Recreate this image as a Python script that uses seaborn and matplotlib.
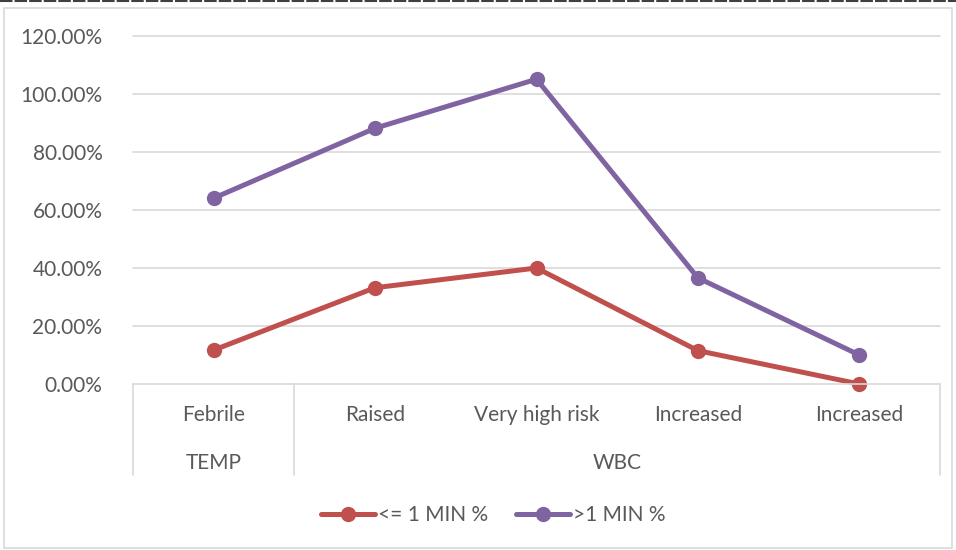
import matplotlib
matplotlib.use("Agg")
import matplotlib.pyplot as plt
import pandas as pd
import seaborn as sns
from matplotlib.lines import Line2D
from matplotlib.patches import Rectangle

categories = ["Febrile", "Raised", "Very high risk", "Increased", "Increased"]
groups = [("TEMP", 0, 1), ("WBC", 1, 5)]
series_names = ["<= 1 MIN %", ">1 MIN %"]
le_1_min = [0.117, 0.332, 0.40, 0.115, 0.0]
gt_1_min = [0.641, 0.882, 1.051, 0.366, 0.10]
yticks = [0.0, 0.2, 0.4, 0.6, 0.8, 1.0, 1.2]

sns.set_theme(style="white")
plt.rcParams["font.family"] = ["Lato", "DejaVu Sans"]

df = pd.DataFrame(
    {
        "pos": list(range(len(categories))) * 2,
        "value": le_1_min + gt_1_min,
        "series": [series_names[0]] * len(categories) + [series_names[1]] * len(categories),
    }
)

fig = plt.figure(figsize=(9.56, 5.5), dpi=100)
ax = fig.add_axes([133 / 956, 1 - 384 / 550, (940 - 133) / 956, (384 - 36) / 550])

grid_c = "#D9D9D9"
text_c = "#595959"
fs = 15
for t in yticks[1:]:
    ax.axhline(t, color=grid_c, lw=1.2, zorder=0)

sns.lineplot(
    data=df,
    x="pos",
    y="value",
    hue="series",
    palette=["#C0504D", "#8064A2"],
    marker="o",
    markersize=11,
    markeredgewidth=0,
    linewidth=3.6,
    ax=ax,
)
for ln in ax.get_lines():
    ln.set_clip_on(False)

ax.set_xlim(-0.5, len(categories) - 0.5)
ax.set_ylim(0, 1.2)
ax.set_yticks(yticks)
ax.set_yticklabels([f"{t * 100:.2f}%" for t in yticks], color=text_c, fontsize=fs)
ax.tick_params(axis="y", length=0, pad=22)
ax.set_xticks([])
ax.set_xlabel("")
ax.set_ylabel("")
for s in ["top", "right", "left"]:
    ax.spines[s].set_visible(False)
ax.spines["bottom"].set_color(grid_c)
ax.spines["bottom"].set_linewidth(1.2)

# multi-level category axis
trans = ax.get_xaxis_transform()
box_bottom = -(475 - 384) / (384 - 36)
for x in [-0.5, 0.5, len(categories) - 0.5]:
    ax.plot([x, x], [0, box_bottom], color=grid_c, lw=1.2, transform=trans, clip_on=False)
for i, c in enumerate(categories):
    ax.text(i, -(415 - 384) / 348, c, transform=trans, ha="center", va="center",
            fontsize=fs, color=text_c)
for name, a, b in groups:
    ax.text((a + b - 1) / 2, -(463 - 384) / 348, name, transform=trans, ha="center",
            va="center", fontsize=fs, color=text_c)

handles, labels = ax.get_legend_handles_labels()
ax.legend_.remove()
fig.legend(
    handles,
    labels,
    loc="center",
    bbox_to_anchor=(0.516, 1 - 515 / 550),
    ncol=2,
    frameon=False,
    fontsize=fs,
    labelcolor=text_c,
    handlelength=2.6,
    handletextpad=0.15,
    columnspacing=1.35,
)

fig.patches.append(Rectangle((4 / 956, 2 / 550), 948 / 956, 540 / 550, transform=fig.transFigure,
                             fill=False, edgecolor=grid_c, lw=1.2))
fig.lines.append(Line2D([0, 1], [1 - 1 / 550, 1 - 1 / 550], transform=fig.transFigure,
                        color="#404040", lw=1.5, ls=(0, (6, 1))))
fig.savefig("out.png", dpi=100)
